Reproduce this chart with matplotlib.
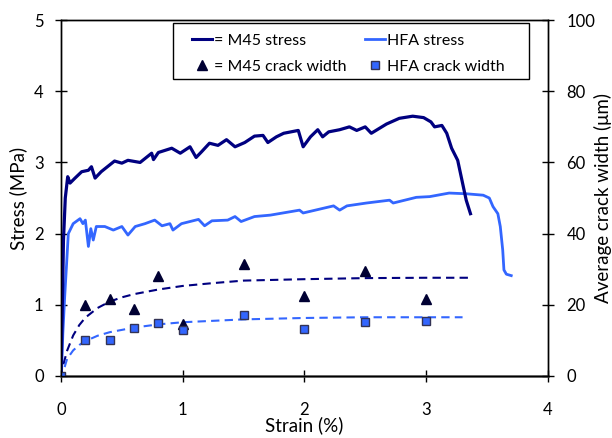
import matplotlib.pyplot as plt
from matplotlib.lines import Line2D
from matplotlib.patches import Rectangle

plt.rcParams['font.family'] = ['Lato', 'DejaVu Sans']

# stress-strain curves (left axis, MPa)
m45_strain = [0.0, 0.01, 0.02, 0.035, 0.055, 0.074, 0.115, 0.17, 0.225, 0.25, 0.28, 0.33, 0.44,
              0.50, 0.55, 0.65, 0.745, 0.76, 0.80, 0.91, 0.98, 1.06, 1.11, 1.155, 1.22, 1.29,
              1.36, 1.43, 1.51, 1.59, 1.66, 1.70, 1.77, 1.83, 1.95, 1.99, 2.05, 2.11, 2.15,
              2.20, 2.29, 2.37, 2.43, 2.50, 2.55, 2.675, 2.78, 2.89, 2.98, 3.04, 3.07, 3.13,
              3.17, 3.21, 3.26, 3.30, 3.33, 3.365]
m45_stress = [0.0, 0.9, 1.9, 2.5, 2.80, 2.71, 2.78, 2.87, 2.89, 2.94, 2.78, 2.87, 3.02,
              2.99, 3.03, 3.00, 3.13, 3.04, 3.14, 3.20, 3.13, 3.22, 3.07, 3.15, 3.27, 3.24,
              3.32, 3.22, 3.28, 3.37, 3.38, 3.28, 3.36, 3.41, 3.45, 3.22, 3.36, 3.46, 3.36,
              3.43, 3.46, 3.50, 3.45, 3.50, 3.41, 3.54, 3.62, 3.65, 3.63, 3.57, 3.50, 3.52,
              3.41, 3.20, 3.03, 2.71, 2.47, 2.28]

hfa_strain = [0.0, 0.005, 0.015, 0.03, 0.045, 0.06, 0.10, 0.156, 0.18, 0.20, 0.225, 0.245, 0.265,
              0.29, 0.36, 0.43, 0.50, 0.55, 0.61, 0.69, 0.77, 0.83, 0.895, 0.92, 0.99, 1.13,
              1.18, 1.24, 1.37, 1.43, 1.48, 1.59, 1.72, 1.96, 1.99, 2.24, 2.29, 2.35, 2.51,
              2.70, 2.73, 2.92, 3.03, 3.19, 3.33, 3.47, 3.52, 3.55, 3.59, 3.61, 3.63, 3.64,
              3.66, 3.70]
hfa_stress = [0.0, 0.08, 0.6, 1.11, 1.55, 2.0, 2.14, 2.21, 2.14, 2.19, 1.82, 2.07, 1.91,
              2.10, 2.10, 2.05, 2.10, 1.98, 2.10, 2.14, 2.19, 2.11, 2.14, 2.05, 2.14, 2.20,
              2.11, 2.18, 2.19, 2.24, 2.17, 2.24, 2.26, 2.33, 2.29, 2.39, 2.33, 2.39, 2.43,
              2.47, 2.43, 2.51, 2.52, 2.57, 2.56, 2.54, 2.50, 2.38, 2.28, 2.10, 1.77, 1.49,
              1.43, 1.41]

# crack widths (right axis, um)
crack_strain = [0.0, 0.2, 0.4, 0.6, 0.8, 1.0, 1.5, 2.0, 2.5, 3.0]
m45_crack = [0.0, 20.0, 21.6, 18.7, 28.0, 14.5, 31.4, 22.5, 29.5, 21.5]
hfa_crack = [0.0, 10.1, 10.0, 13.4, 14.8, 12.9, 17.0, 13.3, 15.3, 15.5]

# trend lines
m45_trend_x = [0.02, 0.05, 0.1, 0.15, 0.2, 0.3, 0.4, 0.5, 0.6, 0.8, 1.0, 1.25, 1.5, 2.0, 2.5, 3.0, 3.35]
m45_trend_y = [3.3, 7.1, 11.4, 14.3, 16.4, 19.1, 20.9, 22.1, 23.0, 24.3, 25.3, 26.1, 26.8, 27.2, 27.5, 27.6, 27.6]
hfa_trend_x = [0.03, 0.05, 0.1, 0.15, 0.2, 0.3, 0.4, 0.6, 0.8, 1.0, 1.5, 2.0, 2.5, 3.0, 3.3]
hfa_trend_y = [2.5, 4.8, 7.2, 8.7, 9.8, 11.3, 12.3, 13.6, 14.5, 15.1, 15.9, 16.3, 16.5, 16.5, 16.5]

navy = '#000080'
blue = '#3366FF'

fig = plt.figure(figsize=(6.12, 4.38), dpi=100)
ax = fig.add_axes([0.0997, 0.1416, 0.7953, 0.8125])
ax2 = ax.twinx()

ax.plot(m45_strain, m45_stress, color=navy, lw=2.3, zorder=3)
ax.plot(hfa_strain, hfa_stress, color=blue, lw=2.0, zorder=2)

ax2.plot(m45_trend_x, m45_trend_y, color=navy, lw=1.5, ls=(0, (4, 2.5)))
ax2.plot(hfa_trend_x, hfa_trend_y, color=blue, lw=1.5, ls=(0, (4, 2.5)))
ax2.plot(crack_strain, m45_crack, ls='none', marker='^', ms=7, color='#000033',
         markeredgecolor='#000033')
ax2.plot(crack_strain, hfa_crack, ls='none', marker='s', ms=6, color=blue,
         markeredgecolor='#333355', markeredgewidth=1.0)

ax.set_xlim(0, 4)
ax.set_ylim(0, 5)
ax2.set_ylim(0, 100)
ax.set_xticks([0, 1, 2, 3, 4])
ax.set_yticks([0, 1, 2, 3, 4, 5])
ax2.set_yticks([0, 20, 40, 60, 80, 100])

for a in (ax, ax2):
    a.tick_params(direction='inout', length=9, width=1, labelsize=12, colors='black')
    for s in a.spines.values():
        s.set_color('black')
        s.set_linewidth(1.0)
ax.spines['bottom'].set_color('#555555')
ax.spines['bottom'].set_linewidth(1.8)
ax.tick_params(axis='x', pad=14)
ax.tick_params(axis='y', pad=8)
ax2.tick_params(axis='y', pad=9)

ax.set_xlabel('Strain (%)', fontsize=13.5)
ax.set_ylabel('Stress (MPa)', fontsize=13.5)
ax2.set_ylabel('Average crack width (μm)', fontsize=13.5)
ax.xaxis.set_label_coords(0.5, -0.113)
ax.yaxis.set_label_coords(-0.07, 0.5)
ax2.yaxis.set_label_coords(1.094, 0.5)

handles = [
    Line2D([], [], color=navy, lw=2.2),
    Line2D([], [], ls='none', marker='^', ms=7, color='#000033'),
    Line2D([], [], color=blue, lw=2.0),
    Line2D([], [], ls='none', marker='s', ms=6, color=blue, markeredgecolor='#333355'),
]
labels = ['= M45 stress', '= M45 crack width', 'HFA stress', 'HFA crack width']
leg = ax2.legend(handles, labels, ncol=2, loc='upper left', mode='expand',
                 bbox_to_anchor=(0.269, 0.962, 0.643, 0.0), fontsize=11.5,
                 frameon=False, handlelength=1.25, handletextpad=0.15,
                 borderpad=0, labelspacing=0.75, borderaxespad=0)
# legend box
ax2.add_patch(Rectangle((0.23, 0.834), 0.731, 0.158, transform=ax2.transAxes,
                        fill=False, edgecolor='black', lw=1.0, zorder=5))

fig.savefig('out.png', dpi=100)
